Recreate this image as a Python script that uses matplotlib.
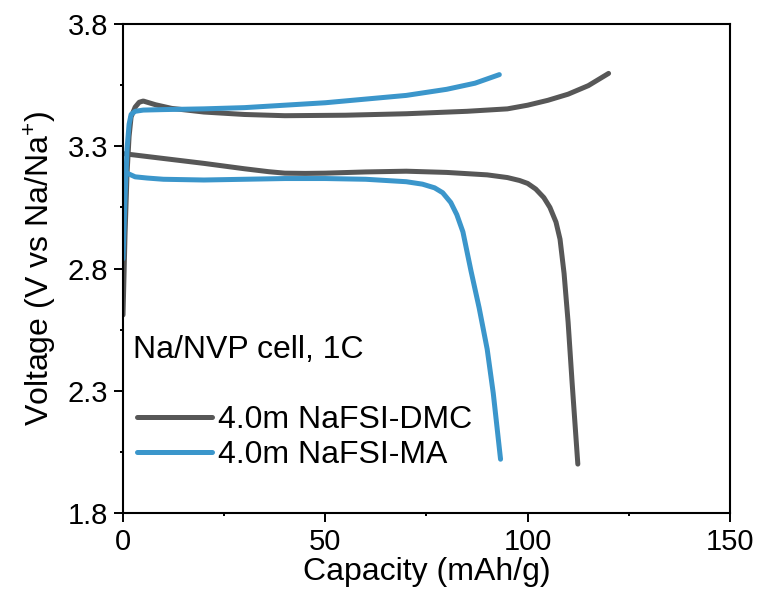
import numpy as np
import matplotlib
matplotlib.use('Agg')
from matplotlib import pyplot as plt
from matplotlib.ticker import FixedLocator

plt.rcParams['font.family'] = ['Liberation Sans', 'DejaVu Sans']
plt.rcParams['mathtext.fontset'] = 'custom'
plt.rcParams['mathtext.rm'] = 'Liberation Sans'

# 4.0m NaFSI-DMC, charge and discharge
dmc_chg_cap = [0, 0.5, 1, 1.5, 2, 3, 4, 5, 8, 12, 20, 30, 40, 55, 70, 85, 95, 100, 105, 110, 115, 120]
dmc_chg_v = [2.61, 2.94, 3.19, 3.34, 3.42, 3.46, 3.48, 3.485, 3.47, 3.455, 3.44, 3.43, 3.425, 3.427,
             3.433, 3.443, 3.453, 3.468, 3.488, 3.513, 3.548, 3.598]
dmc_dis_cap = [0, 5, 10, 20, 30, 36, 40, 45, 50, 60, 70, 80, 90, 95, 98, 100, 102, 104, 105.5,
               107, 108, 109, 110, 111, 112.4]
dmc_dis_v = [3.27, 3.26, 3.25, 3.23, 3.208, 3.196, 3.19, 3.189, 3.19, 3.195, 3.198, 3.193, 3.183,
             3.172, 3.16, 3.148, 3.125, 3.09, 3.05, 2.99, 2.92, 2.78, 2.58, 2.33, 2.0]

# 4.0m NaFSI-MA, charge and discharge
ma_chg_cap = [0, 0.5, 1, 1.5, 2, 3, 5, 10, 20, 30, 40, 50, 60, 70, 80, 87, 93]
ma_chg_v = [2.84, 3.09, 3.29, 3.39, 3.43, 3.443, 3.448, 3.45, 3.453, 3.458, 3.468, 3.478, 3.493,
            3.508, 3.533, 3.558, 3.593]
ma_dis_cap = [0, 1, 3, 6, 10, 20, 30, 40, 50, 60, 70, 74, 77, 79, 81, 82.5, 84, 86, 88, 90,
              91.5, 93.3]
ma_dis_v = [3.21, 3.19, 3.175, 3.17, 3.165, 3.162, 3.165, 3.168, 3.168, 3.165, 3.155, 3.145, 3.13,
            3.11, 3.07, 3.02, 2.95, 2.79, 2.64, 2.47, 2.29, 2.02]

xticks = [0, 50, 100, 150]
yticks = [1.8, 2.3, 2.8, 3.3, 3.8]

gray = '#575757'
blue = '#3b96cb'
lw = 3.6

fig = plt.figure(figsize=(7.57, 5.93), dpi=100)
ax = fig.add_axes([0.1625, 0.1349, 0.8018, 0.8246])

style = dict(lw=lw, solid_capstyle='round', solid_joinstyle='round')
ax.plot(dmc_chg_cap, dmc_chg_v, color=gray, label='4.0m NaFSI-DMC', **style)
ax.plot(dmc_dis_cap, dmc_dis_v, color=gray, **style)
ax.plot(ma_chg_cap, ma_chg_v, color=blue, label='4.0m NaFSI-MA', **style)
ax.plot(ma_dis_cap, ma_dis_v, color=blue, **style)

ax.set_xlim(0, 150)
ax.set_ylim(1.8, 3.8)
ax.xaxis.set_major_locator(FixedLocator(xticks))
ax.xaxis.set_minor_locator(FixedLocator([25, 75, 125]))
ax.yaxis.set_major_locator(FixedLocator(yticks))
ax.yaxis.set_minor_locator(FixedLocator([2.05, 2.55, 3.05, 3.55]))
ax.set_yticklabels([f'{v:.1f}' for v in yticks])
ax.tick_params(which='both', direction='out', width=1.4, labelsize=21, top=False, right=False)
ax.tick_params(which='major', length=6.5, pad=4)
ax.tick_params(which='minor', length=2.5)
for s in ax.spines.values():
    s.set_linewidth(1.5)

ax.set_xlabel('Capacity (mAh/g)', fontsize=23, labelpad=1)
ax.set_ylabel('Voltage (V vs Na/Na$^{+}$)', fontsize=23, labelpad=7)

ax.text(0.0165, 0.333, 'Na/NVP cell, 1C', transform=ax.transAxes, fontsize=23, va='center', ha='left')
ax.legend(loc='center left', bbox_to_anchor=(0.023, 0.154), frameon=False, fontsize=23,
          borderaxespad=0, borderpad=0, handlelength=2.35, handletextpad=0.2, labelspacing=0.15)

fig.savefig('out.png', dpi=100)
